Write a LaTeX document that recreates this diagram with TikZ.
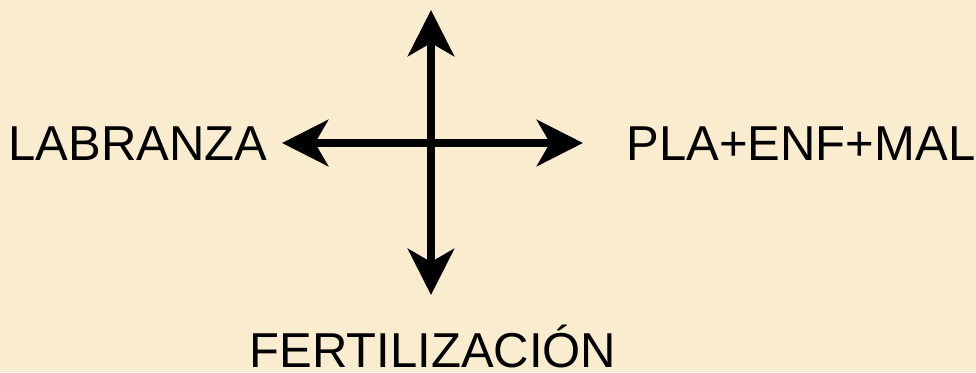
\documentclass[tikz,border=0pt]{standalone}
\usepackage{fontspec}
\setmainfont{Liberation Sans}
\usetikzlibrary{arrows.meta}
\definecolor{parch}{RGB}{250,236,207}
\tikzset{
  lbl/.style={anchor=base, inner sep=0pt, font=\fontsize{49}{58}\selectfont, text=black},
  bigarrow/.style={line width=8.5pt, draw=black, {Stealth[length=46pt,width=46pt,inset=13pt]}-{Stealth[length=46pt,width=46pt,inset=13pt]}}
}
\begin{document}
\begin{tikzpicture}[x=1pt,y=-1pt]
  \fill[parch] (0,0) rectangle (976,372);
  \useasboundingbox (0,0) rectangle (976,372);
  \coordinate (top) at (431,10);
  \coordinate (bottom) at (431,295);
  \coordinate (left) at (282,143);
  \coordinate (right) at (583,143);
  \node[lbl] (lab) at (138,160) {LABRANZA};
  \node[lbl] (pla) at (801,160) {PLA+ENF+MAL};
  \node[lbl] (fer) at (433,367) {FERTILIZACIÓN};
  \draw[bigarrow] (top) -- (bottom);
  \draw[bigarrow] (left) -- (right);
\end{tikzpicture}
\end{document}
